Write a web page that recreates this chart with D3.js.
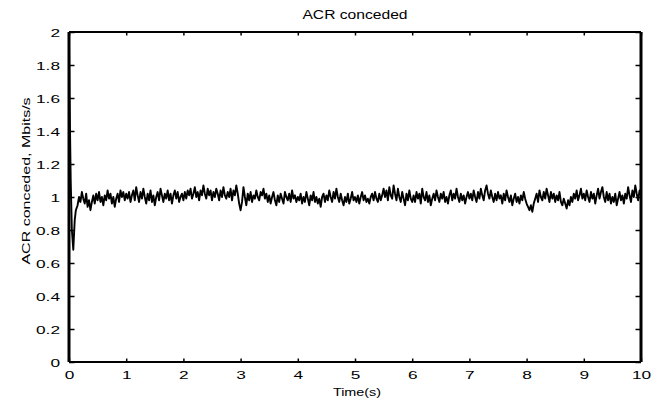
<!DOCTYPE html>
<html>
<head>
<meta charset="utf-8">
<script src="https://cdn.jsdelivr.net/npm/d3@7"></script>
<style>
  body { margin: 0; background: #fff; }
  text { font-family: "Liberation Sans", Arial, sans-serif; fill: #000; }
</style>
</head>
<body>
<div id="chart"></div>
<script>
// start-up transient
const transientTimes = [0, 0.01, 0.03, 0.05, 0.075, 0.1, 0.12]
const transientValues = [1.95, 1.6, 1.1, 0.8, 0.68, 0.86, 0.92]

// steady part, one reading per 0.025 s starting at 0.15 s
const steadyStart = 0.15
const steadyStep = 0.025
const steadyValues = [
    // 0.15 - 1.0
    0.95, 1.00, 0.97, 1.03, 0.99, 0.96, 1.02, 0.94, 0.98, 0.92, 0.97, 1.01, 0.96, 1.02, 0.98, 1.03, 0.97, 1.00, 0.95, 1.01,
    0.98, 1.04, 0.99, 1.02, 0.96, 1.00, 0.94, 0.99, 1.02, 0.97, 1.04, 1.00, 1.03, 0.98, 1.02,
    // 1 - 2
    0.99, 1.03, 0.97, 1.01, 1.04, 0.98, 1.06, 1.01, 0.97, 1.03, 0.99, 1.05, 1.00, 0.96, 1.02, 0.98, 1.04, 0.97, 1.01, 0.95,
    1.00, 1.03, 0.98, 1.05, 1.01, 0.97, 1.02, 0.99, 1.04, 0.98, 1.02, 0.96, 1.01, 1.04, 0.99, 1.03, 0.97, 1.00, 1.02, 0.98,
    // 2 - 3
    1.03, 0.99, 1.04, 1.01, 1.05, 0.99, 1.02, 1.06, 1.00, 1.03, 0.98, 1.04, 1.01, 1.07, 1.02, 0.99, 1.05, 1.01, 1.04, 0.98,
    1.03, 1.00, 1.05, 1.02, 0.98, 1.04, 1.00, 1.06, 1.01, 0.99, 1.03, 1.00, 1.05, 0.98, 1.04, 1.01, 1.07, 1.02, 0.96, 0.92,
    // 3 - 4
    0.97, 1.06, 1.00, 0.95, 1.02, 0.98, 1.03, 0.97, 1.01, 0.99, 1.04, 1.00, 0.98, 1.03, 1.01, 1.05, 0.99, 1.02, 0.97, 1.01,
    0.96, 1.00, 1.03, 0.98, 0.95, 1.01, 0.97, 1.02, 0.99, 0.96, 1.03, 1.00, 0.98, 1.02, 0.97, 1.04, 0.99, 1.01, 0.97, 1.00,
    // 4 - 5
    0.98, 1.02, 0.96, 1.00, 0.97, 1.03, 0.99, 0.95, 1.01, 0.98, 1.03, 0.97, 1.00, 0.96, 0.99, 0.94, 1.00, 1.02, 0.97, 1.01,
    0.98, 1.04, 1.00, 0.97, 1.03, 0.99, 1.05, 1.00, 0.97, 1.02, 0.98, 0.95, 1.00, 0.97, 1.02, 0.96, 0.99, 1.03, 0.98, 1.00,
    // 5 - 6
    0.97, 1.01, 0.96, 1.00, 1.03, 0.98, 1.01, 0.97, 0.99, 0.96, 1.00, 1.02, 0.98, 1.03, 0.99, 0.97, 1.02, 0.98, 1.01, 1.05,
    1.00, 1.04, 0.98, 1.06, 1.01, 0.99, 1.07, 1.02, 0.98, 1.05, 1.00, 0.97, 1.03, 0.99, 0.95, 1.02, 0.98, 1.04, 0.99, 0.97,
    // 6 - 7
    1.01, 0.97, 1.03, 0.99, 1.02, 0.96, 1.05, 1.00, 0.98, 1.03, 0.97, 1.01, 0.95, 0.99, 1.02, 0.98, 1.04, 1.00, 0.97, 1.02,
    0.99, 1.03, 0.97, 1.00, 0.96, 1.01, 1.04, 0.98, 1.02, 0.99, 1.05, 1.00, 0.97, 1.02, 0.98, 1.01, 0.96, 1.00, 1.03, 0.99,
    // 7 - 8
    1.02, 0.98, 1.04, 1.00, 0.97, 1.03, 0.99, 1.05, 1.01, 0.98, 1.04, 1.07, 1.02, 0.99, 1.04, 1.00, 0.97, 1.02, 0.98, 1.03,
    0.99, 1.01, 0.96, 1.02, 0.98, 1.04, 1.00, 0.97, 1.01, 0.95, 0.99, 1.02, 0.97, 1.00, 0.96, 1.01, 0.98, 1.03, 0.99, 0.96,
    // 8 - 9
    0.94, 0.92, 0.95, 0.91, 0.96, 0.99, 1.02, 0.97, 1.04, 1.00, 0.98, 1.03, 0.99, 1.05, 1.01, 0.97, 1.03, 0.99, 1.02, 0.97,
    1.01, 0.98, 1.03, 0.97, 0.95, 0.99, 0.96, 0.93, 0.98, 0.95, 1.00, 0.97, 1.02, 0.99, 1.04, 0.98, 1.01, 1.05, 0.99, 1.02,
    // 9 - 10
    0.98, 1.04, 1.00, 0.97, 1.03, 0.99, 1.02, 0.96, 1.01, 1.05, 0.99, 1.03, 1.06, 1.00, 0.97, 1.03, 0.98, 1.02, 0.96, 1.00,
    0.97, 1.02, 0.95, 0.99, 1.03, 0.98, 1.01, 0.96, 1.02, 0.99, 1.06, 1.01, 0.97, 1.04, 1.00, 1.07, 1.02, 0.98, 1.04, 1.01
]

const xTicks = [0, 1, 2, 3, 4, 5, 6, 7, 8, 9, 10]
const yTicks = [0, 0.2, 0.4, 0.6, 0.8, 1, 1.2, 1.4, 1.6, 1.8, 2]

const data = transientTimes.map((t, i) => ({ t: t, v: transientValues[i] }))
steadyValues.forEach((v, i) => data.push({ t: steadyStart + i * steadyStep, v: v }))

const width = 666, height = 403
const margin = { top: 32, right: 25, bottom: 41, left: 69 }
const w = width - margin.left - margin.right
const h = height - margin.top - margin.bottom

const svg = d3.select("#chart").append("svg")
    .attr("width", width)
    .attr("height", height)

const g = svg.append("g")
    .attr("transform", `translate(${margin.left},${margin.top})`)

const x = d3.scaleLinear().domain([0, 10]).range([0, w])
const y = d3.scaleLinear().domain([0, 2]).range([h, 0])

// stretch labels sideways like the original picture
function widen(sel, k) {
    sel.each(function () {
        const len = this.getComputedTextLength()
        d3.select(this).attr("textLength", len * k).attr("lengthAdjust", "spacingAndGlyphs")
    })
}

// data line
const line = d3.line().x(d => x(d.t)).y(d => y(d.v))
g.append("path")
    .datum(data)
    .attr("fill", "none")
    .attr("stroke", "#000")
    .attr("stroke-width", 1.9)
    .attr("stroke-linejoin", "round")
    .attr("d", line)

// axes, ticks pointing inward
const left = g.append("g").call(d3.axisLeft(y).tickValues(yTicks).tickSize(-5.5).tickPadding(9).tickFormat(d3.format("~g")))
const bottom = g.append("g").attr("transform", `translate(0,${h})`)
    .call(d3.axisBottom(x).tickValues(xTicks).tickSize(-3.5).tickPadding(9).tickFormat(d3.format("~g")))
g.append("g").attr("transform", `translate(${w},0)`)
    .call(d3.axisRight(y).tickValues(yTicks).tickSize(-5.5).tickFormat(""))
g.append("g").call(d3.axisTop(x).tickValues(xTicks).tickSize(-3.5).tickFormat(""))

g.selectAll(".domain").remove()
g.selectAll(".tick line").attr("stroke", "#000").attr("stroke-width", 1.5)
g.selectAll(".tick text").style("font-size", "11.5px").style("font-family", "Liberation Sans, Arial, sans-serif")
left.selectAll(".tick text").attr("dy", "0.35em")
bottom.selectAll(".tick text").attr("dy", "0.71em")
widen(g.selectAll(".tick text"), 1.5)

// frame
g.append("line").attr("x1", 0).attr("x2", w).attr("y1", 0).attr("y2", 0).attr("stroke", "#000").attr("stroke-width", 2)
g.append("line").attr("x1", 0).attr("x2", w).attr("y1", h).attr("y2", h).attr("stroke", "#000").attr("stroke-width", 2)
g.append("line").attr("x1", 0).attr("x2", 0).attr("y1", 0).attr("y2", h).attr("stroke", "#000").attr("stroke-width", 3)
g.append("line").attr("x1", w).attr("x2", w).attr("y1", 0).attr("y2", h).attr("stroke", "#000").attr("stroke-width", 3)

// title and axis labels
const title = svg.append("text")
    .attr("x", margin.left + w / 2)
    .attr("y", 19)
    .attr("text-anchor", "middle")
    .style("font-size", "12.5px")
    .text("ACR conceded")
widen(title, 1.25)

const xLabel = svg.append("text")
    .attr("x", margin.left + w / 2 + 2)
    .attr("y", 396)
    .attr("text-anchor", "middle")
    .style("font-size", "11.5px")
    .text("Time(s)")
widen(xLabel, 1.25)

const yLabel = svg.append("text")
    .attr("transform", `translate(30,181) rotate(-90)`)
    .attr("text-anchor", "middle")
    .style("font-size", "10px")
    .text("ACR conceded, Mbits/s")
widen(yLabel, 1.6)
</script>
</body>
</html>
